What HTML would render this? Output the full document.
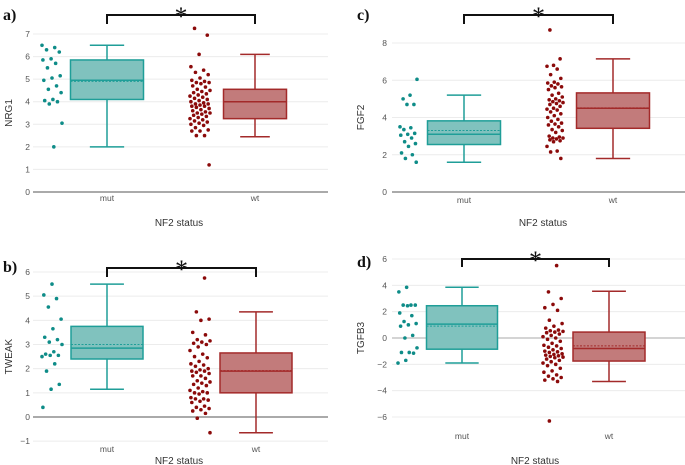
<!DOCTYPE html>
<html><head><meta charset="utf-8"><style>
html,body{margin:0;padding:0;background:#fff;}
svg{display:block;font-family:"Liberation Sans",sans-serif;}
</style></head><body>
<svg id="chart" width="685" height="465" viewBox="0 0 685 465"></svg>
<script>
// ---- data ----
const categories = ["mut","wt"];
const panelLetters = ["a)","b)","c)","d)"];
const panelGenes = ["NRG1","TWEAK","FGF2","TGFB3"];
const ticksA = [0,1,2,3,4,5,6,7];
const ticksB = [-1,0,1,2,3,4,5,6];
const ticksC = [0,2,4,6,8];
const ticksD = [-6,-4,-2,0,2,4,6];
// box stats: [whiskerLow, q1, median, mean, q3, whiskerHigh]
const boxA_mut = [2.0,4.1,4.95,4.9,5.85,6.5];
const boxA_wt  = [2.45,3.25,4.0,4.0,4.55,6.1];
const boxB_mut = [1.15,2.4,2.85,3.0,3.75,5.5];
const boxB_wt  = [-0.65,1.0,1.9,1.92,2.65,4.35];
const boxC_mut = [1.6,2.55,3.1,3.3,3.82,5.2];
const boxC_wt  = [1.8,3.42,4.5,4.52,5.32,7.15];
const boxD_mut = [-1.9,-0.85,1.05,0.9,2.45,3.85];
const boxD_wt  = [-3.3,-1.75,-0.8,-0.6,0.45,3.55];
// points
const ptsA_mut = [6.5,6.4,6.3,6.2,5.9,5.85,5.7,5.5,5.15,5.05,4.95,4.7,4.55,4.4,4.1,4.05,4.0,3.9,3.05,2.0];
const ptsA_wt = [7.25,6.95,6.1,5.55,5.4,5.3,5.2,5.05,4.95,4.9,4.85,4.85,4.8,4.7,4.65,4.55,4.5,4.45,4.4,4.35,4.3,4.25,4.2,4.15,4.1,4.05,4.0,3.95,3.9,3.9,3.85,3.8,3.8,3.75,3.7,3.65,3.6,3.55,3.5,3.5,3.45,3.4,3.35,3.3,3.25,3.2,3.15,3.1,3.05,3.0,2.95,2.85,2.75,2.7,2.7,2.5,2.5,1.2];
const ptsB_mut = [5.5,5.05,4.9,4.55,4.05,3.65,3.3,3.2,3.1,3.0,2.7,2.6,2.55,2.55,2.5,2.2,1.9,1.35,1.15,0.4];
const ptsB_wt = [5.75,4.35,4.05,4.0,3.5,3.4,3.2,3.15,3.1,3.05,3.0,2.9,2.75,2.6,2.5,2.45,2.3,2.2,2.15,2.1,2.0,1.95,1.9,1.9,1.85,1.8,1.7,1.7,1.6,1.5,1.45,1.4,1.35,1.3,1.2,1.1,1.05,1.0,1.0,0.95,0.8,0.75,0.75,0.7,0.65,0.6,0.45,0.4,0.35,0.3,0.25,0.15,-0.05,-0.65];
const ptsC_mut = [6.05,5.2,5.0,4.7,4.7,3.5,3.45,3.35,3.15,3.1,3.05,2.9,2.7,2.6,2.45,2.1,2.0,1.8,1.6];
const ptsC_wt = [8.7,7.15,6.8,6.75,6.6,6.3,6.1,5.9,5.85,5.8,5.7,5.65,5.6,5.5,5.3,5.2,5.1,5.0,4.95,4.9,4.85,4.8,4.75,4.7,4.6,4.5,4.45,4.4,4.3,4.2,4.1,4.0,3.9,3.8,3.7,3.65,3.6,3.5,3.35,3.3,3.2,3.0,2.95,2.9,2.9,2.85,2.8,2.75,2.7,2.45,2.2,2.15,1.8];
const ptsD_mut = [3.85,3.5,2.5,2.5,2.5,2.45,1.9,1.7,1.25,1.1,1.0,0.9,0.2,0.0,-0.75,-1.1,-1.1,-1.15,-1.7,-1.9];
const ptsD_wt = [5.5,3.5,3.0,2.55,2.3,2.1,1.35,1.1,0.9,0.75,0.6,0.55,0.5,0.45,0.4,0.3,0.2,0.1,0.0,-0.1,-0.25,-0.4,-0.55,-0.6,-0.7,-0.8,-0.9,-1.0,-1.05,-1.1,-1.2,-1.25,-1.3,-1.35,-1.4,-1.45,-1.5,-1.6,-1.7,-1.8,-1.9,-2.0,-2.1,-2.3,-2.5,-2.6,-2.8,-2.9,-3.0,-3.1,-3.2,-3.3,-6.3];

// ---- layout (not data) ----
const NS = "http://www.w3.org/2000/svg";
const svg = document.getElementById("chart");
function mk(tag, attrs, parent){const e=document.createElementNS(NS,tag);for(const k in attrs)e.setAttribute(k,attrs[k]);(parent||svg).appendChild(e);return e;}
const TEAL={pt:"#0e8c88",fill:"#80c2be",stroke:"#1f9e98"};
const RED={pt:"#8b0a0a",fill:"#c27b7b",stroke:"#a32a2a"};
const panels=[
 {letter:panelLetters[0],gene:panelGenes[0],ticks:ticksA,v1:7,p1:34,v2:0,p2:192,ax0:33,ax1:328,lx:30,cx:[107,255],bw:[73,63],jx:[42,190],jw:[20,20],
  boxes:[boxA_mut,boxA_wt],pts:[ptsA_mut,ptsA_wt],brY:15,brEnd:24,starY:17,letX:3,letY:20,ytX:12,xlY:201,xtY:226,xtX:179,zeroDark:true},
 {letter:panelLetters[1],gene:panelGenes[1],ticks:ticksB,v1:6,p1:272,v2:0,p2:417,ax0:33,ax1:328,lx:30,cx:[107,256],bw:[72,72],jx:[42,190],jw:[20,20],
  boxes:[boxB_mut,boxB_wt],pts:[ptsB_mut,ptsB_wt],brY:268,brEnd:277,starY:270,letX:3,letY:272,ytX:12,xlY:452,xtY:464,xtX:179,zeroDark:true},
 {letter:panelLetters[2],gene:panelGenes[2],ticks:ticksC,v1:8,p1:43,v2:0,p2:192,ax0:392,ax1:685,lx:387,cx:[464,613],bw:[73,73],jx:[400,547],jw:[17,16],
  boxes:[boxC_mut,boxC_wt],pts:[ptsC_mut,ptsC_wt],brY:15,brEnd:24,starY:17,letX:357,letY:20,ytX:364,xlY:203,xtY:226,xtX:543,zeroDark:true},
 {letter:panelLetters[3],gene:panelGenes[3],ticks:ticksD,v1:6,p1:259,v2:-6,p2:417,ax0:392,ax1:685,lx:387,cx:[462,609],bw:[71,72],jx:[398,543],jw:[19,20],
  boxes:[boxD_mut,boxD_wt],pts:[ptsD_mut,ptsD_wt],brY:259,brEnd:267,starY:261,letX:357,letY:267,ytX:364,xlY:439,xtY:464,xtX:535,zeroDark:false}
];
panels.forEach((P,pi)=>{
  const g=mk("g",{});
  
  
  const y=v=>P.p1+(v-P.v1)*(P.p2-P.p1)/(P.v2-P.v1);
  // grid + ticks
  P.ticks.forEach(t=>{
    const gl=mk("line",{x1:P.ax0,x2:P.ax1,y1:y(t),y2:y(t),stroke:t===0?(P.zeroDark?"#777":"#bbb"):"#ececec","stroke-width":t===0?1.3:1},g);
    
    
    const tl=mk("text",{x:P.lx,y:y(t)+3,"text-anchor":"end","font-size":"8.5",fill:"#555"},g);
    tl.textContent=t<0?("\u2212"+(-t)):String(t);
    
    
  });
  // y title
  const ymid=(y(P.ticks[0])+y(P.ticks[P.ticks.length-1]))/2;
  const yt=mk("text",{x:P.ytX,y:ymid,transform:`rotate(-90 ${P.ytX} ${ymid})`,"text-anchor":"middle","font-size":"10",fill:"#333"},g);
  yt.textContent=P.gene;
  
  
  // categories
  categories.forEach((c,ci)=>{
    const col=ci===0?TEAL:RED;
    const cx=P.cx[ci], bw=P.bw[ci], b=P.boxes[ci];
    const bg=mk("g",{},g);
    
    
    const cw=bw*0.47;
    const w1=mk("line",{x1:cx,x2:cx,y1:y(b[0]),y2:y(b[1]),stroke:col.stroke,"stroke-width":1.5},bg);
    
    
    const w2=mk("line",{x1:cx,x2:cx,y1:y(b[4]),y2:y(b[5]),stroke:col.stroke,"stroke-width":1.5},bg);
    
    
    [b[0],b[5]].forEach(v=>{
      const cap=mk("line",{x1:cx-cw/2,x2:cx+cw/2,y1:y(v),y2:y(v),stroke:col.stroke,"stroke-width":1.5},bg);
      
      
    });
    const r=mk("rect",{x:cx-bw/2,y:y(b[4]),width:bw,height:y(b[1])-y(b[4]),fill:col.fill,stroke:col.stroke,"stroke-width":1.5},bg);
    
    
    const md=mk("line",{x1:cx-bw/2,x2:cx+bw/2,y1:y(b[2]),y2:y(b[2]),stroke:col.stroke,"stroke-width":1.5},bg);
    
    
    const mn=mk("line",{x1:cx-bw/2,x2:cx+bw/2,y1:y(b[3]),y2:y(b[3]),stroke:col.stroke,"stroke-width":1,"stroke-dasharray":"2,1.5"},bg);
    
    
    // points
    P.pts[ci].forEach((v,i)=>{
      const j=((i*37+pi*11+ci*5)%23)/22;
      const c2=mk("circle",{cx:P.jx[ci]+j*P.jw[ci],cy:y(v),r:1.8,fill:col.pt},g);
      
      
    });
    const xl=mk("text",{x:cx,y:P.xlY,"text-anchor":"middle","font-size":"8.5",fill:"#555"},g);
    xl.textContent=c;
    
    
  });
  const xt=mk("text",{x:P.xtX,y:P.xtY,"text-anchor":"middle","font-size":"10",fill:"#333"},g);
  xt.textContent="NF2 status";
  
  
  // bracket
  const br=mk("path",{d:`M${P.cx[0]},${P.brEnd} V${P.brY} H${P.cx[1]} V${P.brEnd}`,fill:"none",stroke:"#111","stroke-width":2},g);
  
  
  const st=mk("text",{x:(P.cx[0]+P.cx[1])/2,y:P.starY+8,"text-anchor":"middle","font-size":"26","font-family":"Liberation Serif,serif",fill:"#111"},g);
  st.textContent="*";
  
  
  const lt=mk("text",{x:P.letX,y:P.letY,"font-size":"16","font-weight":"bold","font-family":"Liberation Serif,serif",fill:"#111"},g);
  lt.textContent=P.letter;
  
  
});
</script>
</body></html>
